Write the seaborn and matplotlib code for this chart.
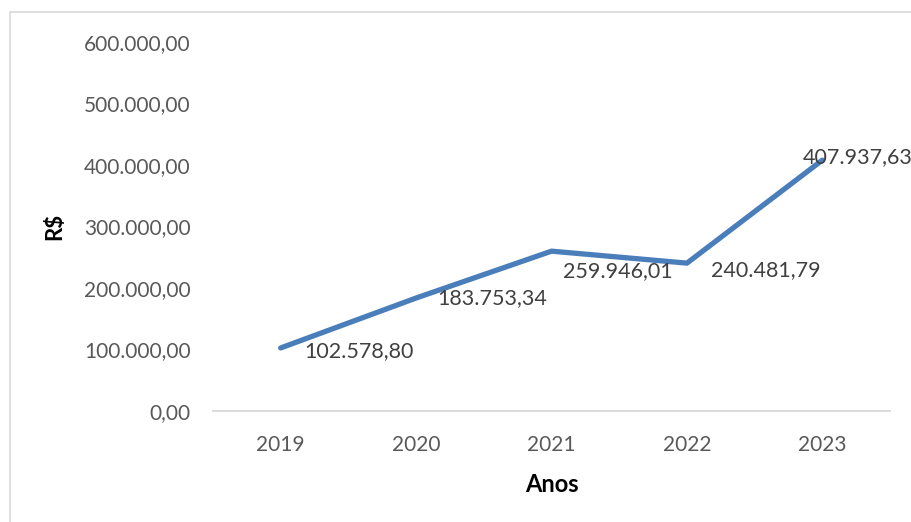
import matplotlib
matplotlib.use("Agg")
import matplotlib.pyplot as plt
from matplotlib.patches import Rectangle
import seaborn as sns
import pandas as pd

# Annual values in R$
anos = ["2019", "2020", "2021", "2022", "2023"]
valores = [102578.80, 183753.34, 259946.01, 240481.79, 407937.63]
yticks = [0, 100000, 200000, 300000, 400000, 500000, 600000]


def brl(v):
    s = f"{v:,.2f}"
    return s.replace(",", "X").replace(".", ",").replace("X", ".")


df = pd.DataFrame({"Anos": anos, "R$": valores})

sns.set_theme(style="white")
plt.rcParams["font.family"] = ["Lato", "DejaVu Sans"]

fig = plt.figure(figsize=(9.11, 5.22), dpi=100)
ax = fig.add_axes([0.2338, 0.2126, 0.977 - 0.2338, 0.9195 - 0.2126])

x = list(range(len(anos)))
df["x"] = x
sns.lineplot(data=df, x="x", y="R$", ax=ax, color="#4a7ebb", linewidth=3.8,
             solid_capstyle="round", solid_joinstyle="round", sort=False)

ax.set_xlim(-0.5, len(anos) - 0.5)
ax.set_ylim(0, 600000)
ax.set_xticks(x)
ax.set_xticklabels(anos)
ax.set_yticks(yticks)
ax.set_yticklabels([brl(v) for v in yticks])
ax.tick_params(axis="both", length=0, labelsize=15, colors="#595959")
ax.tick_params(axis="x", pad=17)
ax.tick_params(axis="y", pad=16)

for s in ["top", "right", "left"]:
    ax.spines[s].set_visible(False)
ax.spines["bottom"].set_color("#d9d9d9")
ax.spines["bottom"].set_linewidth(1.3)
ax.grid(False)

ax.set_xlabel("Anos", fontsize=17, fontweight="bold", color="black")
ax.set_ylabel("R$", fontsize=16, fontweight="bold", color="black")
ax.yaxis.set_label_coords(-0.218, 0.5)
ax.xaxis.set_label_coords(0.5, -0.168)

# Data labels beside each point
offsets = [(17, -2), (15, 0), (8, -14), (17, -5), (-14, 2)]
for xi, v, (dx, dy) in zip(x, valores, offsets):
    ax.annotate(brl(v), (xi, v), xytext=(dx, dy), textcoords="offset points",
                ha="left", va="center", fontsize=15.5, color="#404040")

# Chart-area border
fig.patches.append(Rectangle((10 / 911, -0.1), 1.2, (522 - 12) / 522 + 0.1,
                             transform=fig.transFigure, fill=False,
                             edgecolor="#d9d9d9", linewidth=1.2))

fig.savefig("out.png", dpi=100, facecolor="white")
